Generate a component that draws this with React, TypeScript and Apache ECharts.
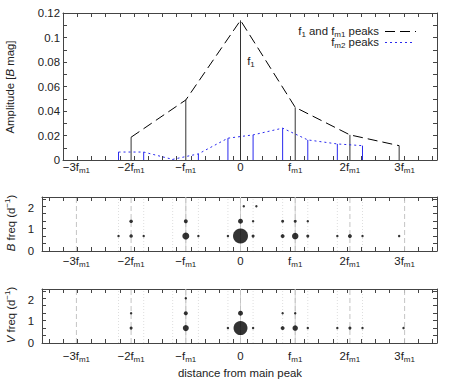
import React, { useEffect, useRef } from "react";
import * as echarts from "echarts";

// ---------- data (x in units of f_m1, distance from main peak) ----------
const MULTIPLES = [-3, -2, -1, 0, 1, 2, 3];
// f1 and fm1 peaks (black)
const MAIN_POS = [-2, -1, 0, 1, 2, 2.9];
const MAIN_AMP = [0.0186, 0.049, 0.114, 0.043, 0.0205, 0.0117];
// fm2 peaks (blue)
const FM2_POS = [-2.23, -1.77, -1.24, -0.77, -0.23, 0.23, 0.77, 1.23, 1.77, 2.23];
const FM2_AMP = [0.0065, 0.0065, 0.0005, 0.005, 0.0178, 0.0205, 0.026, 0.0164, 0.0131, 0.0117];
const SOLID_GUIDES = [-1, 0, 1];
// frequency panels: [distance, frequency (d^-1), amplitude]
const B_DOTS: number[][] = [
  [-2.23, 0.69, 0.004], [-2, 0.69, 0.013], [-1.77, 0.69, 0.004], [-1, 0.69, 0.043],
  [-0.77, 0.69, 0.004], [-0.23, 0.69, 0.004], [0, 0.69, 0.113], [0.23, 0.69, 0.009],
  [0.77, 0.69, 0.017], [1, 0.69, 0.039], [1.23, 0.69, 0.009], [1.77, 0.69, 0.004],
  [2, 0.69, 0.017], [2.23, 0.69, 0.004], [2.9, 0.69, 0.004],
  [-2, 1.38, 0.013], [-1, 1.38, 0.017], [0, 1.38, 0.026], [0.23, 1.38, 0.004],
  [0.77, 1.38, 0.009], [1, 1.38, 0.009], [1.23, 1.38, 0.004],
  [0.06, 2.07, 0.004], [0.29, 2.07, 0.004],
];
const V_DOTS: number[][] = [
  [-2, 0.69, 0.009], [-1, 0.69, 0.035], [-0.23, 0.69, 0.004], [0, 0.69, 0.104],
  [0.23, 0.69, 0.004], [0.77, 0.69, 0.017], [1, 0.69, 0.03], [1.23, 0.69, 0.004],
  [1.77, 0.69, 0.004], [2, 0.69, 0.009], [2.23, 0.69, 0.004], [2.98, 0.69, 0.004],
  [-2, 1.38, 0.004], [-1, 1.38, 0.017], [0, 1.38, 0.026], [0.77, 1.38, 0.004], [1, 1.38, 0.004],
  [-1, 2.07, 0.004],
];
const AMP_LABELS = [0, 0.02, 0.04, 0.06, 0.08, 0.1, 0.12];
const AMP_TICKS = [0.01, 0.02, 0.03, 0.04, 0.05, 0.06, 0.07, 0.08, 0.09, 0.1, 0.11];
const FREQ_LABELS = [0, 1, 2];
const FREQ_TICKS = [0.345, 0.69, 1.035, 1.38, 1.725, 2.07, 2.415];

// ---------- layout / style ----------
const FONT = "'Liberation Sans', Arial, Helvetica, sans-serif";
const FS = 11.4;
const TEXT = "#222";
const AXIS = "#444";
const BLUE = "#2a2aee";
const XMAX = 3.592;
const XMIN_TOP = -3.245;
const XMIN_LOW = -3.629;
const TICK0 = -2.984;
const TICKSTEP = 0.2596;

function xTicks(min: number, max: number) {
  const out: number[] = [];
  for (let k = -4; k < 30; k++) {
    const v = TICK0 + TICKSTEP * k;
    if (v > min + 0.02 && v < max - 0.02) out.push(v);
  }
  return out;
}

const RICH_X = {
  n: { fontSize: FS, fontFamily: FONT, color: TEXT, padding: [0, 0, 2, 0], verticalAlign: "bottom" },
  s: { fontSize: 8, fontFamily: FONT, color: TEXT, verticalAlign: "bottom" },
};

function xLabel(v: number) {
  const m = Math.round(v);
  if (m === 0) return "{n|0}";
  const a = Math.abs(m);
  return `{n|${m < 0 ? "−" : ""}${a === 1 ? "" : a}f}{s|m1}`;
}

const axisLine = { show: true, onZero: false, lineStyle: { color: AXIS, width: 1 } };

function xBottom(grid: number, min: number, margin: number) {
  return {
    type: "value", gridIndex: grid, position: "bottom", min, max: XMAX,
    axisLine, splitLine: { show: false },
    axisTick: { show: true, inside: true, length: 4, customValues: xTicks(min, XMAX), lineStyle: { color: AXIS } },
    axisLabel: { show: true, customValues: MULTIPLES, margin, formatter: xLabel, rich: RICH_X },
  };
}
function xTop(grid: number, min: number) {
  return {
    type: "value", gridIndex: grid, position: "top", min, max: XMAX,
    axisLine, splitLine: { show: false },
    axisTick: { show: true, inside: true, length: 4, customValues: xTicks(min, XMAX), lineStyle: { color: AXIS } },
    axisLabel: { show: false },
  };
}
function yLeft(grid: number, max: number, labels: number[], ticks: number[], margin: number) {
  return {
    type: "value", gridIndex: grid, position: "left", min: 0, max,
    axisLine, splitLine: { show: false },
    axisTick: { show: true, inside: true, length: 4, customValues: ticks, lineStyle: { color: AXIS } },
    axisLabel: {
      show: true, customValues: labels, margin, color: TEXT, fontSize: FS, fontFamily: FONT,
      formatter: (v: number) => String(parseFloat(v.toFixed(2))),
    },
  };
}
function yRight(grid: number, max: number, ticks: number[]) {
  return {
    type: "value", gridIndex: grid, position: "right", min: 0, max,
    axisLine, splitLine: { show: false },
    axisTick: { show: true, inside: true, length: 4, customValues: ticks, lineStyle: { color: AXIS } },
    axisLabel: { show: false },
  };
}

function stems(axis: number, xs: number[], ys: number[], color: string, z: number) {
  return {
    type: "custom", xAxisIndex: axis, yAxisIndex: axis, z, silent: true,
    data: xs.map((x, i) => [x, ys[i]]),
    renderItem: (_p: any, api: any) => {
      const a = api.coord([api.value(0), 0]);
      const b = api.coord([api.value(0), api.value(1)]);
      return { type: "line", shape: { x1: a[0], y1: a[1], x2: b[0], y2: b[1] }, style: { stroke: color, lineWidth: 1 } };
    },
  };
}
function guides(axis: number, xs: number[], color: string, dash: number[] | null) {
  return {
    type: "custom", xAxisIndex: axis, yAxisIndex: axis, z: 1, silent: true,
    data: xs.map((x) => [x, 0]),
    renderItem: (_p: any, api: any) => {
      const a = api.coord([api.value(0), 0]);
      const b = api.coord([api.value(0), 2.5]);
      return {
        type: "line", shape: { x1: a[0], y1: a[1], x2: b[0], y2: b[1] },
        style: { stroke: color, lineWidth: 1, lineDash: dash || undefined },
      };
    },
  };
}
function dots(axis: number, data: number[][]) {
  return {
    type: "scatter", xAxisIndex: axis, yAxisIndex: axis, z: 5, silent: true,
    data, symbol: "circle",
    symbolSize: (v: number[]) => 2 + 115 * v[2],
    itemStyle: { color: "#000" },
  };
}

const RICH_G = {
  n: { fontSize: FS, fontFamily: FONT, fill: TEXT, verticalAlign: "bottom", padding: [0, 0, 2, 0] },
  i: { fontSize: FS, fontFamily: FONT, fill: TEXT, fontStyle: "italic", verticalAlign: "bottom", padding: [0, 0, 2, 0] },
  s: { fontSize: 8, fontFamily: FONT, fill: TEXT, verticalAlign: "bottom" },
  p: { fontSize: 8, fontFamily: FONT, fill: TEXT, verticalAlign: "bottom", padding: [0, 0, 7, 0] },
};

function gText(text: string, x: number, y: number, align: string, rotation = 0) {
  return {
    type: "text", x, y, rotation, silent: true,
    style: { text, align, verticalAlign: "middle", fontSize: FS, fontFamily: FONT, fill: TEXT, rich: RICH_G },
  };
}

export default function App() {
  const ref = useRef<HTMLDivElement>(null);
  useEffect(() => {
    if (!ref.current) return;
    const chart = echarts.init(ref.current, null, { renderer: "svg" });
    const option: any = {
      animation: false,
      backgroundColor: "#fff",
      textStyle: { fontFamily: FONT },
      grid: [
        { left: 63, right: 21, top: 13, height: 147 },
        { left: 42, right: 21, top: 197, height: 54 },
        { left: 42, right: 21, top: 289, height: 54 },
      ],
      xAxis: [
        xBottom(0, XMIN_TOP, 1), xBottom(1, XMIN_LOW, 4), xBottom(2, XMIN_LOW, 7),
        xTop(0, XMIN_TOP), xTop(1, XMIN_LOW), xTop(2, XMIN_LOW),
      ],
      yAxis: [
        yLeft(0, 0.12, AMP_LABELS, AMP_TICKS, 3),
        yLeft(1, 2.5, FREQ_LABELS, FREQ_TICKS, 8),
        yLeft(2, 2.5, FREQ_LABELS, FREQ_TICKS, 8),
        yRight(0, 0.12, AMP_TICKS), yRight(1, 2.5, FREQ_TICKS), yRight(2, 2.5, FREQ_TICKS),
      ],
      series: [
        stems(0, FM2_POS, FM2_AMP, BLUE, 2),
        stems(0, MAIN_POS, MAIN_AMP, "#333", 3),
        {
          type: "line", xAxisIndex: 0, yAxisIndex: 0, z: 4, silent: true, symbol: "none",
          data: FM2_POS.map((x, i) => [x, FM2_AMP[i]]),
          lineStyle: { color: BLUE, width: 1, type: [2, 3] },
        },
        {
          type: "line", xAxisIndex: 0, yAxisIndex: 0, z: 4, silent: true, symbol: "none",
          data: MAIN_POS.map((x, i) => [x, MAIN_AMP[i]]),
          lineStyle: { color: "#000", width: 1, type: [10, 5] },
        },
        guides(1, FM2_POS, "#dedede", [1, 2]),
        guides(1, SOLID_GUIDES, "#d2d2d2", null),
        guides(1, MULTIPLES, "#c4c4c4", [5, 3]),
        dots(1, B_DOTS),
        guides(2, FM2_POS, "#dedede", [1, 2]),
        guides(2, SOLID_GUIDES, "#d2d2d2", null),
        guides(2, MULTIPLES, "#c4c4c4", [5, 3]),
        dots(2, V_DOTS),
      ],
      graphic: [
        gText("{n|Amplitude [}{i|B}{n| mag]}", 11, 87, "center", Math.PI / 2),
        gText("{i|B}{n| freq (d}{p|−1}{n|)}", 11, 223, "center", Math.PI / 2),
        gText("{i|V}{n| freq (d}{p|−1}{n|)}", 11, 315, "center", Math.PI / 2),
        gText("{n|distance from main peak}", 240, 374, "center"),
        gText("{n|f}{s|1}", 251, 62, "center"),
        gText("{n|f}{s|1}{n| and f}{s|m1}{n| peaks}", 379, 32, "right"),
        gText("{n|f}{s|m2}{n| peaks}", 379, 43, "right"),
        { type: "line", silent: true, shape: { x1: 385, y1: 31.5, x2: 416, y2: 31.5 }, style: { stroke: "#000", lineWidth: 1, lineDash: [10, 5] } },
        { type: "line", silent: true, shape: { x1: 385, y1: 42.5, x2: 413, y2: 42.5 }, style: { stroke: BLUE, lineWidth: 1, lineDash: [2, 3] } },
      ],
    };
    chart.setOption(option);
    return () => chart.dispose();
  }, []);
  return <div ref={ref} style={{ position: "absolute", left: 0, top: 0, width: 458, height: 385 }} />;
}
